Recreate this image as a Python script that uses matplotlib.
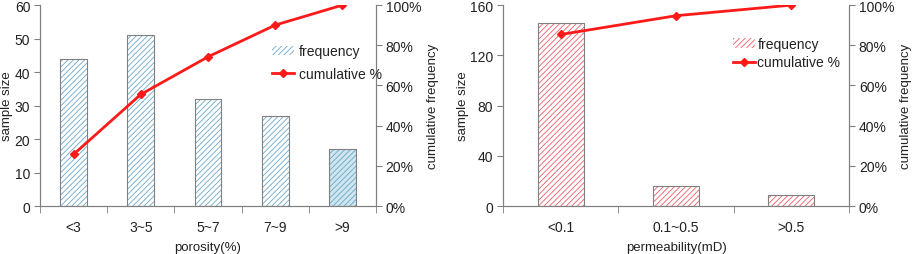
import matplotlib.pyplot as plt
import numpy as np

plt.rcParams['font.family'] = ['Liberation Sans', 'DejaVu Sans']
plt.rcParams['font.size'] = 10
plt.rcParams['text.color'] = "#222222"
plt.rcParams['axes.labelcolor'] = "#222222"
plt.rcParams['xtick.labelcolor'] = "#222222"
plt.rcParams['ytick.labelcolor'] = "#222222"
plt.rcParams['hatch.linewidth'] = 0.6

# porosity histogram
por_labels = ["<3", "3~5", "5~7", "7~9", ">9"]
por_counts = [44, 51, 32, 27, 17]

# permeability histogram
perm_labels = ["<0.1", "0.1~0.5", ">0.5"]
perm_counts = [146, 16, 9]

GRAY = "#808080"


def draw(ax, labels, counts, ymax, yticks, hatch_col, face_cols, xlabel,
         legend_loc, spacing, textpad, legsize):
    n = len(labels)
    x = np.arange(n)
    cum = np.cumsum(counts) / np.sum(counts) * 100

    # hatch drawn in bar colour, then a gray outline on top
    ax.bar(x, counts, width=0.4, color=face_cols, edgecolor=hatch_col,
           hatch="//////", linewidth=0, zorder=2)
    ax.bar(x, counts, width=0.4, fill=False, edgecolor=GRAY, linewidth=0.8, zorder=3)

    ax.set_xlim(-0.5, n - 0.5)
    ax.set_ylim(0, ymax)
    ax.set_yticks(yticks)
    ax.set_xticks(x)
    ax.set_xticklabels(labels)
    ax.set_xticks(np.arange(n + 1) - 0.5, minor=True)
    ax.tick_params(axis="x", which="major", length=0, pad=10)
    ax.tick_params(axis="x", which="minor", length=5, color=GRAY)
    ax.tick_params(axis="y", length=4, color=GRAY, pad=3)
    ax.set_xlabel(xlabel, labelpad=5, fontsize=9.5)
    ax.set_ylabel("sample size", labelpad=1, fontsize=9.5)
    for s in ["left", "bottom", "right"]:
        ax.spines[s].set_color(GRAY)
    ax.spines["top"].set_visible(False)

    ax2 = ax.twinx()
    ax2.plot(x, cum, color="#ff1a1a", lw=2, marker="D", ms=4.5, zorder=4)
    ax2.set_ylim(0, 100)
    ax2.set_yticks(np.arange(0, 101, 20))
    ax2.set_yticklabels([f"{v}%" for v in range(0, 101, 20)])
    ax2.set_ylabel("cumulative frequency", labelpad=4, fontsize=9.5)
    ax2.tick_params(axis="y", length=4, color=GRAY, pad=3)
    for s in ["left", "bottom", "right"]:
        ax2.spines[s].set_color(GRAY)
    ax2.spines["top"].set_visible(False)

    h1 = plt.Rectangle((0, 0), 1, 1, facecolor="white", edgecolor=hatch_col,
                       hatch="//////", linewidth=0)
    h2, = ax2.plot([], [], color="#ff1a1a", lw=2, marker="D", ms=4.5)
    ax2.legend([h1, h2], ["frequency", "cumulative %"], frameon=False,
               loc="upper left", bbox_to_anchor=legend_loc,
               handlelength=1.6, labelspacing=spacing, handletextpad=textpad,
               borderaxespad=0, fontsize=legsize)
    return ax2


fig = plt.figure(figsize=(9.13, 2.55), dpi=100)
ax_l = fig.add_axes([0.0438, 0.188, 0.368, 0.788])
ax_r = fig.add_axes([0.551, 0.188, 0.379, 0.788])

draw(ax_l, por_labels, por_counts, 60, np.arange(0, 61, 10), "#6aa6c8",
     ["white"] * 4 + ["#cfe5ef"], "porosity(%)", (0.674, 0.833), 0.65, 0.35, 10)
draw(ax_r, perm_labels, perm_counts, 160, np.arange(0, 161, 40), "#ec5c66",
     ["white"] * 3, "permeability(mD)", (0.649, 0.871), 0.35, 0.15, 10)

fig.savefig("out.png", dpi=100)
